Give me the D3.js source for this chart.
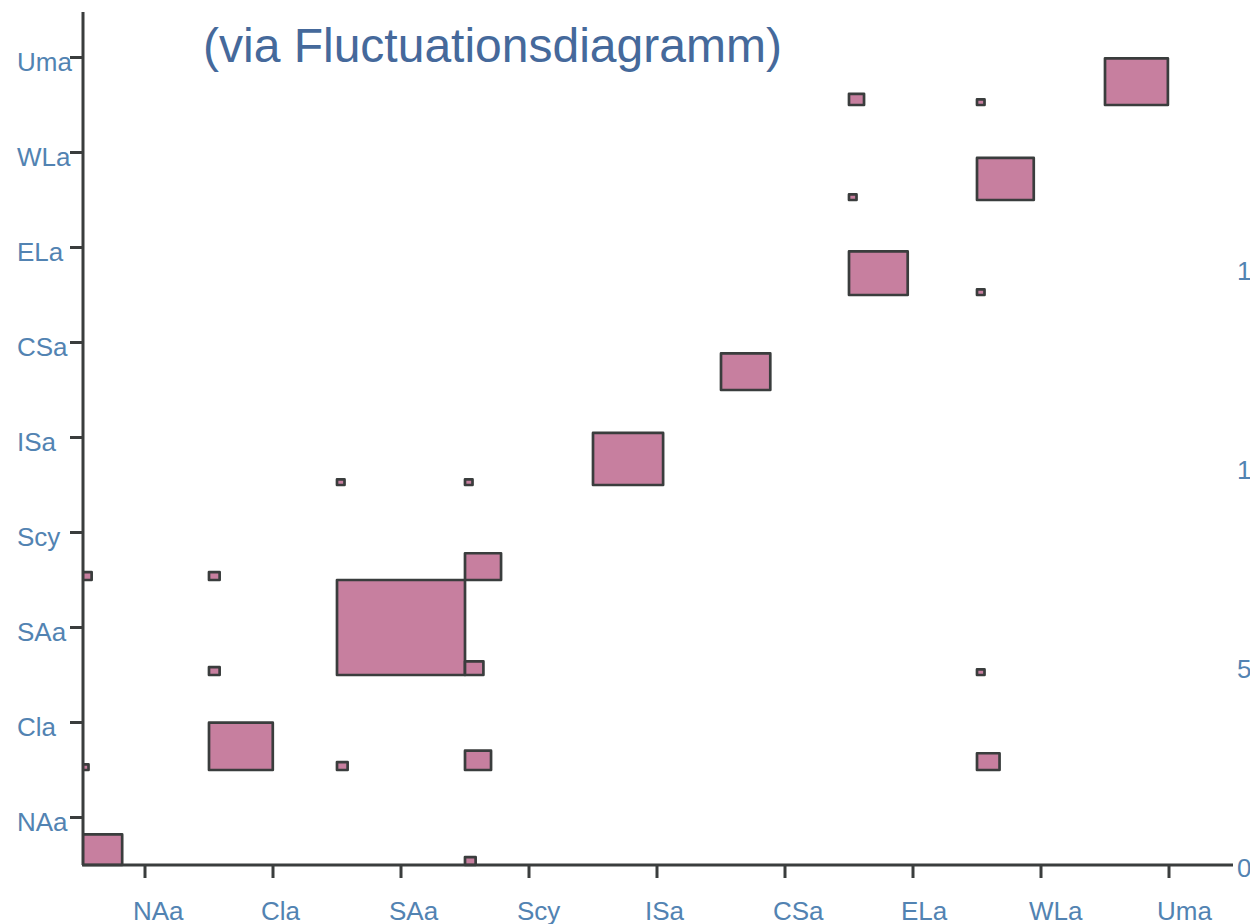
<!DOCTYPE html>
<html>
<head>
<meta charset="utf-8">
<script src="https://cdn.jsdelivr.net/npm/d3@7"></script>
<style>
  body { margin: 0; background: #fff; }
  svg { display: block; font-family: "Liberation Sans", Arial, Helvetica, sans-serif; }
</style>
</head>
<body>
<div id="chart"></div>
<script>
const width = 1250;
const height = 924;

// categories (same for both axes)
const regions = ["NAa", "Cla", "SAa", "Scy", "ISa", "CSa", "ELa", "WLa", "Uma"];

// one entry per tile: column region, row region, count
const cellCol   = ["NAa", "NAa", "NAa", "Cla", "Cla", "Cla", "SAa", "SAa", "SAa", "Scy", "Scy", "Scy", "Scy", "Scy",
                   "ISa", "CSa", "ELa", "ELa", "ELa", "WLa", "WLa", "WLa", "WLa", "WLa", "Uma"];
const cellRow   = ["NAa", "Cla", "Scy", "Cla", "SAa", "Scy", "Cla", "SAa", "ISa", "NAa", "Cla", "SAa", "Scy", "ISa",
                   "ISa", "CSa", "ELa", "WLa", "Uma", "ELa", "WLa", "Uma", "SAa", "Cla", "Uma"];
const cellCount = [30, 1, 2, 72, 2, 2, 2, 290, 1, 2, 12, 6, 23, 1,
                   87, 43, 61, 1, 4, 1, 57, 1, 1, 9, 70];

// right-hand axis labels
const rightTicks = [0, 5, 10, 15];
const rightMax = 21.5;

const titleText = "(via Fluctuationsdiagramm)";

const labelColor = "#5283b2";
const lineColor = "#3a3d3d";

const cells = cellCol.map((c, i) => ({ col: c, row: cellRow[i], n: cellCount[i] }));

const svg = d3.select("#chart").append("svg")
    .attr("width", width)
    .attr("height", height);

const x = d3.scaleBand().domain(regions).range([81, 1233]);
const y = d3.scaleBand().domain(regions).range([865, 10]);
const size = d3.scaleSqrt()
    .domain([0, d3.max(cellCount)])
    .range([0, 1]);
const yRight = d3.scaleLinear().domain([0, rightMax]).range([865, 10]);

svg.append("defs").append("clipPath")
    .attr("id", "plotClip")
  .append("rect")
    .attr("x", 83).attr("y", 0)
    .attr("width", 1160).attr("height", 867);

// tiles, anchored at the lower-left corner of each cell
svg.append("g")
    .attr("clip-path", "url(#plotClip)")
  .selectAll("rect")
  .data(cells)
  .join("rect")
    .attr("x", d => x(d.col))
    .attr("y", d => y(d.row) + y.bandwidth() - y.bandwidth() * size(d.n))
    .attr("width", d => x.bandwidth() * size(d.n))
    .attr("height", d => y.bandwidth() * size(d.n))
    .attr("fill", "#c77f9f")
    .attr("stroke", lineColor)
    .attr("stroke-width", 2.7)
    .attr("stroke-linejoin", "round");

// left axis
const gy = svg.append("g")
    .attr("transform", "translate(83,0)")
    .call(d3.axisLeft(y).tickSize(13).tickSizeOuter(0));
gy.select(".domain").attr("stroke", lineColor).attr("stroke-width", 3)
    .attr("d", "M0,12V865");
gy.selectAll(".tick line").attr("stroke", lineColor).attr("stroke-width", 3);
gy.selectAll(".tick text")
    .attr("x", -66)
    .attr("dy", null)
    .attr("y", 13.5)
    .attr("text-anchor", "start")
    .attr("fill", labelColor)
    .attr("font-size", "26px")
    .attr("font-family", null);

// bottom axis
const gx = svg.append("g")
    .attr("transform", "translate(0,865)")
    .call(d3.axisBottom(x).tickSize(13).tickSizeOuter(0));
gx.select(".domain").attr("stroke", lineColor).attr("stroke-width", 3)
    .attr("d", "M82,0H1233");
gx.selectAll(".tick line").attr("stroke", lineColor).attr("stroke-width", 3);
gx.selectAll(".tick text")
    .attr("x", -12)
    .attr("dy", null)
    .attr("y", 54.5)
    .attr("text-anchor", "start")
    .attr("fill", labelColor)
    .attr("font-size", "26px")
    .attr("font-family", null);

// right-hand labels (cut off by the page edge, as in the original)
svg.append("g").selectAll("text")
  .data(rightTicks)
  .join("text")
    .attr("x", 1237)
    .attr("y", d => yRight(d) + 11.5)
    .attr("fill", labelColor)
    .attr("font-size", "26px")
    .text(d => d);

// title
svg.append("text")
    .attr("x", 203)
    .attr("y", 62)
    .attr("fill", "#45699b")
    .attr("font-size", "48px")
    .text(titleText);
</script>
</body>
</html>
